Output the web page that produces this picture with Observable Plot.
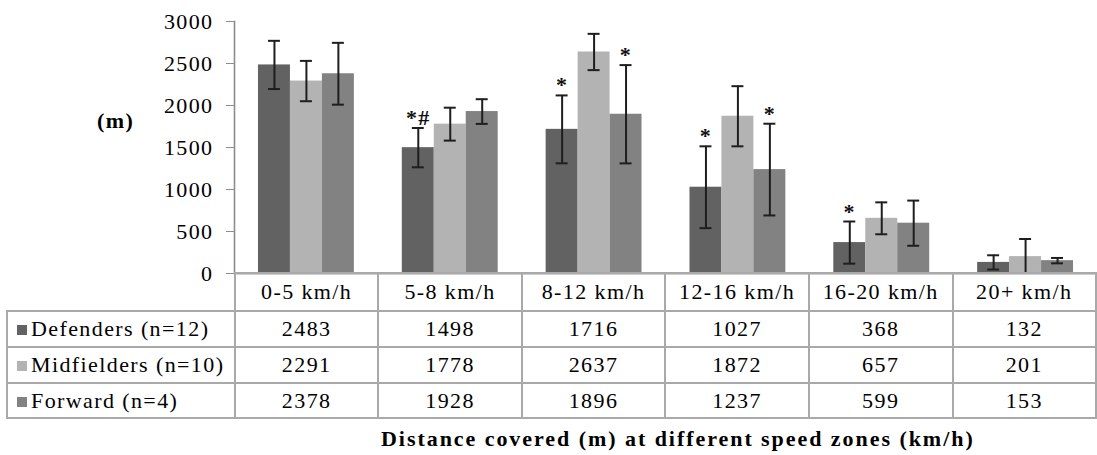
<!DOCTYPE html>
<html>
<head>
<meta charset="utf-8">
<script src="https://cdn.jsdelivr.net/npm/d3@7"></script>
<script src="https://cdn.jsdelivr.net/npm/@observablehq/plot@0.6"></script>
<style>
  html, body { margin: 0; padding: 0; background: #fff; }
  #wrap { position: relative; width: 1097px; height: 455px; overflow: hidden; background: #fff;
          font-family: "Liberation Serif", "Times New Roman", serif; color: #000; }
  #wrap svg { position: absolute; left: 0; top: 0; }
  #ylab { position: absolute; left: 97px; top: 108px; font-weight: bold; font-size: 22px; letter-spacing: 1.4px; }
  #caption { position: absolute; left: 381px; top: 426px; font-weight: bold; font-size: 22px; letter-spacing: 1.95px; white-space: nowrap; }
  table.dt { position: absolute; top: 272px; border-collapse: collapse; table-layout: fixed; font-size: 22px; letter-spacing: 1.4px; font-family: "Liberation Serif", "Times New Roman", serif; }
  table.dt td { border: 2px solid #a9a9a9; text-align: center; padding: 0; white-space: nowrap; }
  table.dt td.lab { text-align: left; padding-left: 9px; }
  table.dt td.blank { border-top: none; border-left: none; }
  .sw { display: inline-block; width: 10px; height: 10px; margin-right: 4px; vertical-align: 1px; }
</style>
</head>
<body>
<div id="wrap">
  <div id="ylab">(m)</div>
  <div id="caption">Distance covered (m) at different speed zones (km/h)</div>
</div>
<script>
// ---- data ----
const zones = ["0-5 km/h", "5-8 km/h", "8-12 km/h", "12-16 km/h", "16-20 km/h", "20+ km/h"];
const groups = ["Defenders (n=12)", "Midfielders (n=10)", "Forward (n=4)"];
const colors = ["#626262", "#b3b3b3", "#828282"];
const defenders = [2483, 1498, 1716, 1027, 368, 132];
const midfielders = [2291, 1778, 2637, 1872, 657, 201];
const forwards = [2378, 1928, 1896, 1237, 599, 153];
const defendersSD = [287, 234, 404, 487, 251, 85];
const midfieldersSD = [240, 196, 216, 358, 190, 210];
const forwardsSD = [368, 147, 585, 546, 269, 32];
const defendersSig = ["", "*#", "*", "*", "*", ""];
const midfieldersSig = ["", "", "", "", "", ""];
const forwardsSig = ["", "", "*", "*", "", ""];
const yTicks = [0, 500, 1000, 1500, 2000, 2500, 3000];

// ---- build rows ----
const series = [
  [defenders, defendersSD, defendersSig],
  [midfielders, midfieldersSD, midfieldersSig],
  [forwards, forwardsSD, forwardsSig]
];
const rows = [];
zones.forEach((z, i) => {
  series.forEach(([vals, sds, sig], j) => {
    rows.push({zone: z, group: groups[j], value: vals[i],
               lo: Math.max(0, vals[i] - sds[i]), hi: vals[i] + sds[i], sig: sig[i]});
  });
});

const W = 1097, H = 274, ML = 234;
const font = "'Liberation Serif', 'Times New Roman', serif";
const plot = Plot.plot({
  width: W, height: H,
  marginLeft: ML, marginRight: 0, marginTop: 21, marginBottom: 1,
  style: {fontFamily: font, fontSize: "22px", color: "#000", background: "transparent", letterSpacing: "1.4px", overflow: "visible"},
  fx: {domain: zones, padding: 0, round: false, axis: null},
  x: {domain: groups, paddingInner: 0, paddingOuter: 0.75, round: false, axis: null},
  y: {domain: [0, 3000]},
  color: {domain: groups, range: colors},
  marks: [
    Plot.frame({anchor: "left", stroke: "#8c8c8c", strokeWidth: 1.6, facetAnchor: "left"}),
    Plot.axisY({ticks: yTicks, tickSize: 8, tickPadding: 13, tickFormat: "d", label: null, stroke: "#8c8c8c", fill: "#000"}),
    Plot.barY(rows, {fx: "zone", x: "group", y: "value", fill: "group"}),
    Plot.ruleY([0], {stroke: "#a0a0a0", strokeWidth: 2}),
    Plot.ruleX(rows, {fx: "zone", x: "group", y1: "lo", y2: "hi", stroke: "#1e1e1e", strokeWidth: 2}),
    Plot.tickY(rows, {fx: "zone", x: "group", y: "hi", stroke: "#1e1e1e", strokeWidth: 2, inset: 10}),
    Plot.tickY(rows.filter(d => d.lo > 0), {fx: "zone", x: "group", y: "lo", stroke: "#1e1e1e", strokeWidth: 2, inset: 10}),
    Plot.text(rows.filter(d => d.sig), {fx: "zone", x: "group", y: "hi", text: "sig", dy: -10, fontWeight: "bold", fontSize: 22, fill: "#111"})
  ]
});
const wrap = document.getElementById("wrap");
wrap.appendChild(plot);

// ---- data table below the plot, aligned to the fx bands ----
const fx = plot.scale("fx");
const colW = fx.step;
const table = document.createElement("table");
table.className = "dt";
table.style.left = "6px";
const cg = document.createElement("colgroup");
const c0 = document.createElement("col"); c0.style.width = (ML - 6) + "px"; cg.appendChild(c0);
zones.forEach(() => { const c = document.createElement("col"); c.style.width = colW + "px"; cg.appendChild(c); });
table.appendChild(cg);
const hr = document.createElement("tr"); hr.style.height = "38px";
const hb = document.createElement("td"); hb.className = "blank"; hr.appendChild(hb);
zones.forEach(z => { const td = document.createElement("td"); td.textContent = z; hr.appendChild(td); });
table.appendChild(hr);
series.forEach(([vals], j) => {
  const tr = document.createElement("tr"); tr.style.height = (j === 2 ? 35 : 36) + "px";
  const lab = document.createElement("td"); lab.className = "lab";
  const sw = document.createElement("span"); sw.className = "sw"; sw.style.background = colors[j];
  lab.appendChild(sw); lab.appendChild(document.createTextNode(groups[j]));
  tr.appendChild(lab);
  vals.forEach(v => { const td = document.createElement("td"); td.textContent = v; tr.appendChild(td); });
  table.appendChild(tr);
});
wrap.appendChild(table);
</script>
</body>
</html>
